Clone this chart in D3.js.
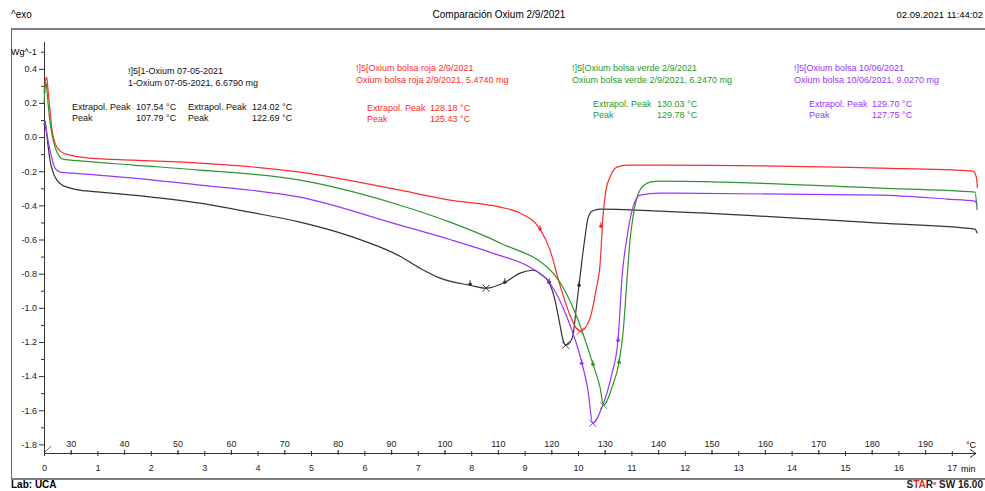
<!DOCTYPE html>
<html>
<head>
<meta charset="utf-8">
<script src="https://cdn.jsdelivr.net/npm/d3@7"></script>
<style>
body { margin: 0; background: #fff; }
text { font-family: "Liberation Sans", Arial, sans-serif; }
</style>
</head>
<body>
<div id="chart"></div>
<script>
// DSC curves, temperature (°C) vs heat flow (W/g)
var blackTemp = [25.0, 25.19, 25.37, 25.75, 26.12, 26.69, 27.43, 28.37, 29.31, 31.74, 35.49, 41.67, 54.21, 63.58, 72.94, 82.30, 91.67, 95.41, 99.16, 104.78, 107.79, 111.33, 114.14, 116.57, 118.26, 119.57, 120.69, 121.63, 122.2, 122.69, 123.5, 124.06, 124.63, 125.19, 125.75, 126.31, 126.87, 127.62, 129.12, 140.36, 181.55, 199.34, 199.75];
var blackVal = [0.07, 0.094, 0.053, -0.047, -0.135, -0.205, -0.252, -0.281, -0.293, -0.311, -0.322, -0.34, -0.387, -0.44, -0.498, -0.58, -0.698, -0.768, -0.826, -0.868, -0.885, -0.85, -0.797, -0.78, -0.809, -0.85, -0.955, -1.102, -1.19, -1.219, -1.202, -1.161, -1.014, -0.868, -0.721, -0.586, -0.475, -0.434, -0.422, -0.434, -0.504, -0.539, -0.563];

var redTemp = [25.0, 25.28, 25.51, 25.75, 26.12, 26.5, 27.06, 28.0, 29.87, 33.61, 41.67, 54.21, 72.94, 91.67, 101.03, 110.39, 114.14, 117.88, 119.76, 121.63, 123.5, 124.7, 125.43, 127.25, 128.37, 129.12, 129.7, 130.24, 131.0, 132.3, 134.18, 140.36, 181.55, 198.97, 199.6, 199.8];
var redVal = [0.258, 0.334, 0.352, 0.275, 0.158, 0.041, -0.035, -0.082, -0.106, -0.123, -0.135, -0.152, -0.205, -0.311, -0.369, -0.41, -0.445, -0.539, -0.662, -0.868, -1.043, -1.12, -1.137, -1.061, -0.897, -0.75, -0.457, -0.311, -0.234, -0.176, -0.164, -0.164, -0.182, -0.199, -0.234, -0.3];

var greenTemp = [25.0, 25.19, 25.32, 25.56, 25.75, 26.25, 27.06, 28.0, 28.56, 32.3, 41.67, 54.21, 72.94, 91.67, 101.03, 110.39, 120.32, 124.81, 127.81, 129.12, 129.78, 131.37, 132.68, 133.43, 134.3, 134.74, 135.3, 136.61, 138.48, 140.36, 181.55, 199.34, 199.75];
var greenVal = [0.199, 0.276, 0.317, 0.276, 0.199, 0.059, -0.059, -0.117, -0.129, -0.141, -0.164, -0.193, -0.252, -0.399, -0.498, -0.62, -0.797, -1.055, -1.331, -1.465, -1.571, -1.465, -1.319, -1.149, -0.78, -0.604, -0.469, -0.311, -0.264, -0.258, -0.299, -0.322, -0.428];

var purpleTemp = [25.0, 25.19, 25.37, 25.75, 26.12, 27.06, 28.0, 30.43, 41.67, 54.21, 72.94, 91.67, 101.03, 110.0, 116.0, 119.76, 122.94, 125.75, 126.87, 127.75, 129.49, 131.37, 132.49, 133.3, 134.18, 135.3, 136.61, 140.36, 181.55, 194.1, 199.34, 199.75];
var purpleVal = [0.07, 0.088, 0.053, -0.018, -0.076, -0.182, -0.205, -0.211, -0.24, -0.281, -0.352, -0.516, -0.6, -0.69, -0.762, -0.856, -1.055, -1.325, -1.483, -1.676, -1.583, -1.383, -1.19, -0.8, -0.586, -0.41, -0.34, -0.328, -0.34, -0.363, -0.375, -0.399];

// integration limit dots and peak crosses
var blackDots = [[104.8, -0.862], [111.3, -0.85], [119.6, -0.85], [125.2, -0.868]];
var redDots = [[117.9, -0.539], [129.3, -0.522]];
var greenDots = [[127.8, -1.331], [132.7, -1.319]];
var purpleDots = [[125.7, -1.325], [132.5, -1.19]];
var blackPeaks = [[107.79, -0.885], [122.69, -1.219]];
var redPeaks = [[125.43, -1.137]];
var greenPeaks = [[129.78, -1.571]];
var purplePeaks = [[127.75, -1.676]];

var blackTitle = ["!]5[1-Oxium 07-05-2021", "1-Oxium 07-05-2021, 6.6790 mg"];
var redTitle = ["!]5[Oxium bolsa roja 2/9/2021", "Oxium bolsa roja 2/9/2021, 5.4740 mg"];
var greenTitle = ["!]5[Oxium bolsa verde 2/9/2021", "Oxium bolsa verde 2/9/2021, 6.2470 mg"];
var purpleTitle = ["!]5[Oxium bolsa 10/06/2021", "Oxium bolsa 10/06/2021, 9.0270 mg"];
var blackResults = [["107.54 °C", "107.79 °C"], ["124.02 °C", "122.69 °C"]];
var redResults = [["128.18 °C", "125.43 °C"]];
var greenResults = [["130.03 °C", "129.78 °C"]];
var purpleResults = [["129.70 °C", "127.75 °C"]];

var yTicks = [0.4, 0.2, 0.0, -0.2, -0.4, -0.6, -0.8, -1.0, -1.2, -1.4, -1.6, -1.8];
var tempTicks = [30, 40, 50, 60, 70, 80, 90, 100, 110, 120, 130, 140, 150, 160, 170, 180, 190];
var minTicks = [0, 1, 2, 3, 4, 5, 6, 7, 8, 9, 10, 11, 12, 13, 14, 15, 16, 17];

var W = 985, H = 491;
var svg = d3.select("#chart").append("svg")
    .attr("width", W)
    .attr("height", H);

var x = d3.scaleLinear().domain([25, 200]).range([44, 978.5]);
var xMin = d3.scaleLinear().domain([0, 17.5]).range([44, 978.5]);
var y = d3.scaleLinear().domain([0.4, -1.8]).range([68.8, 444.4]);
var axisY = 453;

// frame
svg.append("line").attr("x1", 11).attr("x2", W).attr("y1", 29).attr("y2", 29)
    .attr("stroke", "#555").attr("stroke-width", 1.3);
svg.append("line").attr("x1", 11).attr("x2", W).attr("y1", 479).attr("y2", 479)
    .attr("stroke", "#555").attr("stroke-width", 1.3);
svg.append("line").attr("x1", 11.5).attr("x2", 11.5).attr("y1", 29).attr("y2", 479)
    .attr("stroke", "#666").attr("stroke-width", 1);

// header / footer
svg.append("text").attr("x", 11).attr("y", 18)
    .attr("font-size", 10).text("^exo");
svg.append("text").attr("x", 499).attr("y", 18)
    .attr("text-anchor", "middle").attr("font-size", 10).text("Comparación Oxium 2/9/2021");
svg.append("text").attr("x", 983).attr("y", 18)
    .attr("text-anchor", "end").attr("font-size", 9.5).text("02.09.2021 11:44:02");
svg.append("text").attr("x", 11).attr("y", 488)
    .attr("font-size", 10).attr("font-weight", "bold").text("Lab: UCA");
var star = svg.append("text").attr("x", 983).attr("y", 488)
    .attr("text-anchor", "end").attr("font-size", 10).attr("font-weight", "bold");
star.append("tspan").attr("fill", "#222").text("S");
star.append("tspan").attr("fill", "#e8201c").text("TA");
star.append("tspan").attr("fill", "#222").text("R");
star.append("tspan").attr("fill", "#e8201c").attr("font-size", 6).attr("dy", -3).text("e");
star.append("tspan").attr("fill", "#222").attr("dy", 3).text(" SW 16.00");

// y axis
var fmt = function(d) { return Math.abs(d) < 1e-9 ? "0.0" : d.toFixed(1); };
svg.append("g").attr("transform", "translate(44,0)")
    .call(d3.axisLeft(y).tickValues(yTicks).tickSize(5).tickPadding(2).tickFormat(fmt));
svg.append("g").attr("transform", "translate(44,0)")
    .call(d3.axisLeft(y).tickValues(d3.range(-17, 6, 2).map(function(d) { return d / 10; }))
        .tickSize(3).tickFormat(""));
svg.selectAll(".domain").remove();
svg.append("line").attr("x1", 44.5).attr("x2", 44.5).attr("y1", 42).attr("y2", axisY)
    .attr("stroke", "#333");
svg.append("text").attr("x", 11).attr("y", 55).attr("font-size", 9).text("Wg^-1");

// x axes (temperature above, time below)
svg.append("g").attr("class", "xt").attr("transform", "translate(0," + axisY + ")")
    .call(d3.axisTop(x).tickValues(tempTicks).tickSize(3).tickPadding(3));
svg.append("g").attr("class", "xt").attr("transform", "translate(0," + axisY + ")")
    .call(d3.axisTop(x).tickValues(d3.range(25, 200, 5)).tickSize(2).tickFormat(""));
svg.append("g").attr("class", "xm").attr("transform", "translate(0," + axisY + ")")
    .call(d3.axisBottom(xMin).tickValues(minTicks).tickSize(3).tickPadding(9));
svg.append("g").attr("class", "xm").attr("transform", "translate(0," + axisY + ")")
    .call(d3.axisBottom(xMin).tickValues(d3.range(0.5, 17.5, 1)).tickSize(2).tickFormat(""));
svg.selectAll(".xt .domain, .xm .domain").remove();
svg.append("line").attr("x1", 44).attr("x2", 976).attr("y1", axisY + 0.5).attr("y2", axisY + 0.5)
    .attr("stroke", "#333");
svg.append("path").attr("d", "M970," + (axisY - 3.5) + "L976," + (axisY + 0.5) + "L970," + (axisY + 4.5))
    .attr("fill", "none").attr("stroke", "#333");
svg.append("path").attr("d", "M45," + (axisY - 1) + "L51," + (axisY - 7))
    .attr("fill", "none").attr("stroke", "#666");
svg.append("text").attr("x", 966).attr("y", 448).attr("font-size", 9).text("°C");
svg.append("text").attr("x", 961).attr("y", 472).attr("font-size", 9).text("min");
svg.selectAll(".tick text").attr("font-size", 9).attr("font-family", "Liberation Sans, Arial, sans-serif").attr("fill", "#222");
svg.selectAll(".tick line").attr("stroke", "#333");

// curves
var series = [
    { temp: blackTemp, val: blackVal, color: "#333333", dots: blackDots, peaks: blackPeaks },
    { temp: redTemp, val: redVal, color: "#ff2a2a", dots: redDots, peaks: redPeaks },
    { temp: greenTemp, val: greenVal, color: "#2b962b", dots: greenDots, peaks: greenPeaks },
    { temp: purpleTemp, val: purpleVal, color: "#9933ff", dots: purpleDots, peaks: purplePeaks }
];

var line = d3.line()
    .x(function(d) { return x(d[0]); })
    .y(function(d) { return y(d[1]); })
    .curve(d3.curveMonotoneX);

series.forEach(function(s) {
    var pts = s.temp.map(function(t, i) { return [t, s.val[i]]; });
    svg.append("path").datum(pts)
        .attr("d", line)
        .attr("fill", "none")
        .attr("stroke", s.color)
        .attr("stroke-width", 1.2);
    s.dots.forEach(function(d) {
        svg.append("circle").attr("cx", x(d[0])).attr("cy", y(d[1])).attr("r", 1.8).attr("fill", s.color);
        svg.append("line").attr("x1", x(d[0])).attr("x2", x(d[0]))
            .attr("y1", y(d[1]) - 4).attr("y2", y(d[1]) + 1).attr("stroke", s.color);
    });
    s.peaks.forEach(function(d) {
        var cx = x(d[0]), cy = y(d[1]);
        svg.append("path").attr("d", "M" + (cx - 3.5) + "," + (cy - 3.5) + "L" + (cx + 3.5) + "," + (cy + 3.5) +
                "M" + (cx - 3.5) + "," + (cy + 3.5) + "L" + (cx + 3.5) + "," + (cy - 3.5))
            .attr("stroke", s.color).attr("stroke-width", 1);
    });
});

// annotations
function legend(title, results, color, tx, ty, rx, ry, vx, colStep) {
    var g = svg.append("g").attr("fill", color).attr("font-size", 9);
    g.append("text").attr("x", tx).attr("y", ty).text(title[0]);
    g.append("text").attr("x", tx).attr("y", ty + 12).text(title[1]);
    results.forEach(function(r, i) {
        var off = i * colStep;
        g.append("text").attr("x", rx + off).attr("y", ry).text("Extrapol. Peak");
        g.append("text").attr("x", vx + off).attr("y", ry).text(r[0]);
        g.append("text").attr("x", rx + off).attr("y", ry + 11).text("Peak");
        g.append("text").attr("x", vx + off).attr("y", ry + 11).text(r[1]);
    });
}
legend(blackTitle, blackResults, "#111", 128, 74, 72, 110, 136, 116);
legend(redTitle, redResults, "#ff2a2a", 356, 71, 367, 111, 430, 0);
legend(greenTitle, greenResults, "#2b962b", 572, 71, 593, 107, 657, 0);
legend(purpleTitle, purpleResults, "#9933ff", 794, 71, 809, 107, 872, 0);
</script>
</body>
</html>
